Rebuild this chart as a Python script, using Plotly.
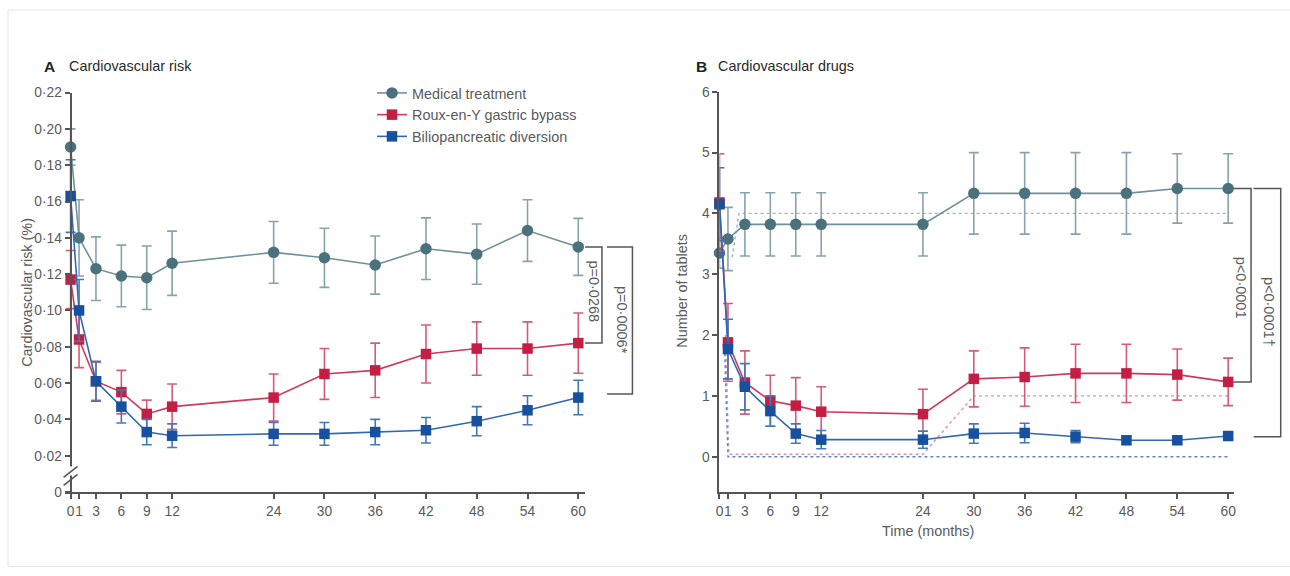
import plotly.graph_objects as go

W, H = 1290, 576
FONT = "Liberation Sans, Arial, sans-serif"
# measured page-to-screenshot mapping of the viewer (scale, offset) used to place items
SX, OX = 0.994, 4.5
SY, OY = 0.973, 7.0

# ---------------- data ----------------
months = [0, 1, 3, 6, 9, 12, 24, 30, 36, 42, 48, 54, 60]
month_labels = ["0", "1", "3", "6", "9", "12", "24", "30", "36", "42", "48", "54", "60"]

# Panel A: cardiovascular risk
risk_medical = [0.190, 0.140, 0.123, 0.119, 0.118, 0.126, 0.132, 0.129, 0.125, 0.134, 0.131, 0.144, 0.135]
risk_medical_err = [0.010, 0.021, 0.0175, 0.017, 0.0175, 0.0177, 0.017, 0.0163, 0.016, 0.017, 0.0166, 0.017, 0.0157]
risk_rygb = [0.117, 0.084, 0.061, 0.055, 0.043, 0.047, 0.052, 0.065, 0.067, 0.076, 0.079, 0.079, 0.082]
risk_rygb_err = [0.016, 0.0155, 0.0105, 0.012, 0.0076, 0.0125, 0.013, 0.014, 0.015, 0.016, 0.0147, 0.0147, 0.0166]
risk_bpd = [0.163, 0.100, 0.061, 0.047, 0.033, 0.031, 0.032, 0.032, 0.033, 0.034, 0.039, 0.045, 0.052]
risk_bpd_err = [0.020, 0.017, 0.011, 0.009, 0.007, 0.0065, 0.0063, 0.0063, 0.007, 0.007, 0.008, 0.008, 0.0095]
risk_ticks = [0, 0.02, 0.04, 0.06, 0.08, 0.10, 0.12, 0.14, 0.16, 0.18, 0.20, 0.22]
risk_tick_labels = ["0", "0·02", "0·04", "0·06", "0·08", "0·10", "0·12", "0·14", "0·16", "0·18", "0·20", "0·22"]

# Panel B: cardiovascular drugs (number of tablets)
drugs_medical = [3.35, 3.58, 3.82, 3.82, 3.82, 3.82, 3.82, 4.33, 4.33, 4.33, 4.33, 4.41, 4.41]
drugs_medical_err = [0.25, 0.52, 0.52, 0.52, 0.52, 0.52, 0.52, 0.67, 0.67, 0.67, 0.67, 0.57, 0.57]
drugs_rygb = [4.18, 1.88, 1.22, 0.92, 0.84, 0.74, 0.70, 1.28, 1.31, 1.37, 1.37, 1.35, 1.23]
drugs_rygb_err = [0.80, 0.64, 0.52, 0.42, 0.46, 0.41, 0.41, 0.46, 0.48, 0.48, 0.48, 0.42, 0.39]
drugs_bpd = [4.15, 1.77, 1.15, 0.75, 0.38, 0.28, 0.28, 0.38, 0.39, 0.33, 0.27, 0.27, 0.34]
drugs_bpd_err = [0.60, 0.49, 0.38, 0.25, 0.16, 0.15, 0.14, 0.16, 0.16, 0.10, 0.06, 0.06, 0.06]
drugs_ticks = [0, 1, 2, 3, 4, 5, 6]
drugs_tick_labels = ["0", "1", "2", "3", "4", "5", "6"]

# Panel B reference (dotted) lines
ref_medical_x = [1.5, 2.3, 60]
ref_medical_y = [3.28, 4.0, 4.0]
ref_rygb_x = [0.7, 1.1, 24, 30, 60]
ref_rygb_y = [2.0, 0.04, 0.04, 1.0, 1.0]
ref_bpd_x = [0.6, 1.0, 60]
ref_bpd_y = [1.8, 0.0, 0.0]

series_names = ["Medical treatment", "Roux-en-Y gastric bypass", "Biliopancreatic diversion"]
p_labels_a = ["p=0·0268", "p=0·0006*"]
p_labels_b = ["p<0·0001", "p<0·0001†"]

# ---------------- styles ----------------
C_MED, C_MED_LINE, C_MED_ERR = "#4b727c", "#6f9099", "#87a3ab"
C_RED, C_RED_LINE, C_RED_ERR = "#c41e45", "#cc3a5c", "#d35d78"
C_BLU, C_BLU_LINE, C_BLU_ERR = "#16509e", "#3168b0", "#4577b8"
AX = "#555555"
TXT = "#5a5a5a"

fig = go.Figure()

def add_series(x, y, err, name, color, lcolor, ecolor, symbol, xa, ya, show):
    fig.add_trace(go.Scatter(
        x=x, y=y, name=name, mode="lines+markers",
        line=dict(color=lcolor, width=1.6),
        marker=dict(symbol=symbol, size=11.5 if symbol == "circle" else 10.5, color=color,
                    line=dict(width=0)),
        error_y=dict(type="data", array=err, visible=True, color=ecolor,
                     thickness=1.6, width=5),
        xaxis=xa, yaxis=ya, showlegend=show, cliponaxis=False,
    ))

def add_ref(x, y, color, xa, ya):
    fig.add_trace(go.Scatter(
        x=x, y=y, mode="lines", line=dict(color=color, width=1.4, dash="dot"),
        xaxis=xa, yaxis=ya, showlegend=False, hoverinfo="skip", cliponaxis=False,
    ))

add_ref(ref_medical_x, ref_medical_y, "#9fb4ba", "x2", "y2")
add_ref(ref_rygb_x, ref_rygb_y, "#e6909f", "x2", "y2")
add_ref(ref_bpd_x, ref_bpd_y, "#5f86c2", "x2", "y2")

add_series(months, risk_medical, risk_medical_err, series_names[0], C_MED, C_MED_LINE, C_MED_ERR, "circle", "x", "y", True)
add_series(months, risk_rygb, risk_rygb_err, series_names[1], C_RED, C_RED_LINE, C_RED_ERR, "square", "x", "y", True)
add_series(months, risk_bpd, risk_bpd_err, series_names[2], C_BLU, C_BLU_LINE, C_BLU_ERR, "square", "x", "y", True)

add_series(months, drugs_medical, drugs_medical_err, series_names[0], C_MED, C_MED_LINE, C_MED_ERR, "circle", "x2", "y2", False)
add_series(months, drugs_rygb, drugs_rygb_err, series_names[1], C_RED, C_RED_LINE, C_RED_ERR, "square", "x2", "y2", False)
add_series(months, drugs_bpd, drugs_bpd_err, series_names[2], C_BLU, C_BLU_LINE, C_BLU_ERR, "square", "x2", "y2", False)

# ---------------- axes ----------------
# helpers: target screenshot pixel -> paper fraction
def px_x(p):
    return ((p - OX) / SX) / W

def px_y(p):
    return 1 - ((p - OY) / SY) / H

sA = (578 - 71) / 60.0
sB = (1227 - 719) / 60.0
XA_DOM = [px_x(65), px_x(585)]
XA_RNG = [(65 - 71) / sA, (585 - 71) / sA]
YA_DOM = [px_y(491.5), px_y(92.5)]
YA_RNG = [0, 0.22]
XB_DOM = [px_x(719), px_x(1233)]
XB_RNG = [0, (1233 - 719) / sB]
YB_DOM = [px_y(491.5), px_y(91.7)]
YB_RNG = [-0.58, 6]

def to_paper(v, dom, rng):
    return dom[0] + (v - rng[0]) / (rng[1] - rng[0]) * (dom[1] - dom[0])

def pa_x(v):
    return to_paper(v, XA_DOM, XA_RNG)

def pa_y(v):
    return to_paper(v, YA_DOM, YA_RNG)

def pb_x(v):
    return to_paper(v, XB_DOM, XB_RNG)

def pb_y(v):
    return to_paper(v, YB_DOM, YB_RNG)

tickfont = dict(family=FONT, size=13.8, color=TXT)
common_x = dict(showgrid=False, zeroline=False, showline=True, linecolor=AX, linewidth=2,
                ticks="outside", ticklen=5, tickwidth=1.5, tickcolor=AX, tickfont=tickfont,
                tickvals=months, ticktext=month_labels, tickangle=0, fixedrange=True)
common_y = dict(showgrid=False, zeroline=False, showline=True, linecolor=AX, linewidth=2,
                ticks="outside", ticklen=5, tickwidth=1.5, tickcolor=AX, tickfont=tickfont,
                tickangle=0, fixedrange=True)

fig.update_layout(
    xaxis=dict(domain=XA_DOM, range=XA_RNG, anchor="y", **common_x),
    yaxis=dict(domain=YA_DOM, range=YA_RNG, anchor="free", position=px_x(71),
               tickvals=risk_ticks, ticktext=risk_tick_labels, **common_y),
    xaxis2=dict(domain=XB_DOM, range=XB_RNG, anchor="y2", **common_x),
    yaxis2=dict(domain=YB_DOM, range=YB_RNG, anchor="x2",
                tickvals=drugs_ticks, ticktext=drugs_tick_labels, **common_y),
)

# ---------------- decorations ----------------
shapes = []
annotations = []

def P(xp, yp):
    return dict(xref="paper", yref="paper", x0=xp[0], x1=xp[1], y0=yp[0], y1=yp[1])

# faint frame
shapes.append(dict(type="rect", line=dict(color="#e4e4e4", width=1), layer="below",
                   **P((px_x(8.5), px_x(1300)), (px_y(566), px_y(10)))))

# axis break in panel A
shapes.append(dict(type="rect", fillcolor="white", line=dict(width=0),
                   **P((px_x(66), px_x(76)), (px_y(475), px_y(466)))))
shapes.append(dict(type="line", line=dict(color=AX, width=1.6),
                   **P((px_x(64), px_x(78)), (px_y(477), px_y(466)))))
shapes.append(dict(type="line", line=dict(color=AX, width=1.6),
                   **P((px_x(64), px_x(78)), (px_y(485), px_y(474)))))

BR = "#555555"

def bracket(x0, x1, ytop, ybot):
    path = f"M {x0} {ytop} L {x1} {ytop} L {x1} {ybot} L {x0} {ybot}"
    shapes.append(dict(type="path", xref="paper", yref="paper", path=path,
                       line=dict(color=BR, width=1.5)))

def plabel(x, y, text):
    annotations.append(dict(x=x, y=y, xref="paper", yref="paper", text=text, textangle=90,
                            showarrow=False, xanchor="center", yanchor="middle",
                            font=dict(family=FONT, size=14.5, color=TXT)))

# panel A brackets (anchored to final values)
bracket(pa_x(60.8), pa_x(62.8), pa_y(risk_medical[-1]), pa_y(risk_rygb[-1]))
bracket(pa_x(63.4), pa_x(66.4), pa_y(risk_medical[-1]), pa_y(risk_bpd[-1] + 0.002))
plabel(pa_x(61.85), pa_y((risk_medical[-1] + risk_rygb[-1]) / 2 + 0.002), p_labels_a[0])
plabel(pa_x(65.1), pa_y((risk_medical[-1] + risk_bpd[-1]) / 2 + 0.001), p_labels_a[1])

# panel B brackets
bracket(pb_x(60.6), pb_x(62.7), pb_y(drugs_medical[-1]), pb_y(drugs_rygb[-1]))
bracket(pb_x(63.0), pb_x(66.2), pb_y(drugs_medical[-1]), pb_y(drugs_bpd[-1] - 0.01))
plabel(pb_x(61.45), pb_y(2.77), p_labels_b[0])
plabel(pb_x(64.9), pb_y(2.385), p_labels_b[1])

# panel titles
for letter, title, xl, xt in [("A", "Cardiovascular risk", 42, 67), ("B", "Cardiovascular drugs", 694, 716)]:
    annotations.append(dict(x=px_x(xl), y=px_y(66), xref="paper", yref="paper", xanchor="left",
                            yanchor="middle", text=f"<b>{letter}</b>", showarrow=False,
                            font=dict(family=FONT, size=15.5, color="#222222")))
    annotations.append(dict(x=px_x(xt), y=px_y(66), xref="paper", yref="paper", xanchor="left",
                            yanchor="middle", text=title, showarrow=False,
                            font=dict(family=FONT, size=14.4, color="#2a2a2a")))

# axis titles
annotations.append(dict(x=px_x(18), y=px_y(292), xref="paper", yref="paper", text="Cardiovascular risk (%)",
                        textangle=-90, showarrow=False, font=dict(family=FONT, size=14.4, color=TXT)))
annotations.append(dict(x=px_x(682), y=px_y(290), xref="paper", yref="paper", text="Number of tablets",
                        textangle=-90, showarrow=False, font=dict(family=FONT, size=14.4, color=TXT)))
annotations.append(dict(x=px_x(975), y=px_y(540), xref="paper", yref="paper", text="Time (months)",
                        showarrow=False, font=dict(family=FONT, size=14.4, color=TXT)))

fig.update_layout(
    width=W, height=H, margin=dict(l=0, r=0, t=0, b=0),
    paper_bgcolor="white", plot_bgcolor="white",
    shapes=shapes, annotations=annotations,
    legend=dict(x=px_x(372), y=px_y(77), xanchor="left", yanchor="top",
                bgcolor="rgba(0,0,0,0)", borderwidth=0, tracegroupgap=0,
                font=dict(family=FONT, size=14.4, color=TXT), itemwidth=30),
    showlegend=True,
)

fig.write_html("out.html")
